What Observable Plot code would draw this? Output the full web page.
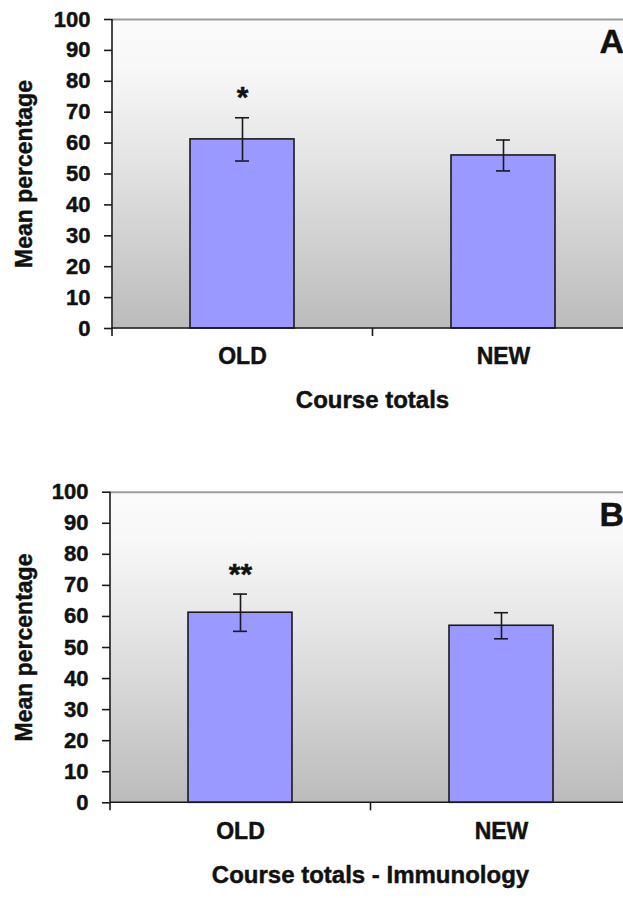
<!DOCTYPE html>
<html>
<head>
<meta charset="utf-8">
<script src="https://cdn.jsdelivr.net/npm/d3@7"></script>
<script src="https://cdn.jsdelivr.net/npm/@observablehq/plot@0.6"></script>
<style>
  html, body { margin: 0; padding: 0; background: #fff; overflow: hidden; }
  #chart { width: 623px; height: 898px; }
  #chart svg { display: block; }
  #chart svg text { font-family: "Liberation Sans", Arial, sans-serif; }
</style>
</head>
<body>
<div id="chart"></div>
<script>
// ---- data ----
const categories = ["OLD", "NEW"];
const meansA = [61.2, 56.0];
const errorsA = [7.0, 5.0];
const starsA = ["*", ""];
const meansB = [61.2, 57.0];
const errorsB = [6.0, 4.2];
const starsB = ["**", ""];
const yTicks = [0, 10, 20, 30, 40, 50, 60, 70, 80, 90, 100];
const yLabel = "Mean percentage";
const titleA = "Course totals";
const titleB = "Course totals - Immunology";

function axisLines() {
  return (index, scales, values, dim) => {
    const x = scales.x;
    const bw = typeof x.bandwidth === "function" ? x.bandwidth() : x.bandwidth;
    const x0 = dim.marginLeft, x1 = dim.width - dim.marginRight;
    const yTop = dim.marginTop, yBot = dim.height - dim.marginBottom;
    const mid = (x(categories[0]) + bw + x(categories[1])) / 2;
    const g = d3.create("svg:g").attr("stroke", "#1a1a1a").attr("stroke-width", 1.6).attr("fill", "none");
    g.append("line").attr("x1", x0).attr("x2", x0).attr("y1", yTop).attr("y2", yBot);
    g.append("line").attr("x1", x0).attr("x2", x1).attr("y1", yBot).attr("y2", yBot);
    for (const bx of [x0, mid, x1]) {
      g.append("line").attr("x1", bx).attr("x2", bx).attr("y1", yBot).attr("y2", yBot + 8);
    }
    return g.node();
  };
}

function panel({means, errors, stars, title, letter, id, mt, mb, ml, mr, letterDx, letterDy, labDy, titleDy, yLabDx}) {
  const rows = categories.map((c, i) => ({cat: c, mean: means[i], err: errors[i], star: stars[i]}));
  const bold = {fontWeight: "bold", fill: "#111", stroke: "#111", strokeWidth: 0.45};
  const svg = Plot.plot({
    width: 623,
    height: 449,
    marginLeft: ml,
    marginRight: mr,
    marginTop: mt,
    marginBottom: mb,
    style: {background: "transparent", overflow: "hidden", color: "#111"},
    x: {domain: categories, paddingInner: 0.603, paddingOuter: 0.294, axis: null},
    y: {domain: [0, 100], axis: null},
    marks: [
      Plot.frame({fill: `url(#${id})`, stroke: null}),
      Plot.ruleY([100], {stroke: "#9c9c9c", strokeWidth: 2}),
      Plot.barY(rows, {x: "cat", y: "mean", fill: "#9999ff", stroke: "#1a1a1a", strokeWidth: 1.6}),
      Plot.ruleX(rows, {x: "cat", y1: d => d.mean - d.err, y2: d => d.mean + d.err, stroke: "#1a1a1a", strokeWidth: 1.6}),
      Plot.tickY(rows, {x: "cat", y: d => d.mean + d.err, insetLeft: 45, insetRight: 45, stroke: "#1a1a1a", strokeWidth: 1.6}),
      Plot.tickY(rows, {x: "cat", y: d => d.mean - d.err, insetLeft: 45, insetRight: 45, stroke: "#1a1a1a", strokeWidth: 1.6}),
      Plot.text(rows, {x: "cat", y: d => d.mean + d.err, text: "star", dy: -20, fontSize: 30, ...bold}),
      Plot.axisY({ticks: yTicks, tickSize: 8, tickPadding: 14, fontSize: 22, fontWeight: "bold", label: null, stroke: "#1a1a1a", strokeWidth: 1.6}),
      axisLines(),
      Plot.text(rows, {x: "cat", text: "cat", frameAnchor: "bottom", dy: labDy, fontSize: 23, ...bold}),
      Plot.text([title], {frameAnchor: "bottom", dy: titleDy, fontSize: 24, ...bold}),
      Plot.text([yLabel], {frameAnchor: "left", textAnchor: "middle", dx: yLabDx, rotate: -90, fontSize: 23, ...bold}),
      Plot.text([letter], {frameAnchor: "top-right", textAnchor: "start", lineAnchor: "top", dx: letterDx, dy: letterDy, fontSize: 34, ...bold})
    ]
  });
  // gradient background like the spreadsheet plot area
  const ns = "http://www.w3.org/2000/svg";
  const defs = document.createElementNS(ns, "defs");
  const grad = document.createElementNS(ns, "linearGradient");
  grad.setAttribute("id", id);
  grad.setAttribute("x1", "0"); grad.setAttribute("y1", "0");
  grad.setAttribute("x2", "0"); grad.setAttribute("y2", "1");
  [[0, "#fbfbfb"], [0.15, "#f8f8f8"], [0.45, "#e4e4e4"], [0.75, "#cecece"], [1, "#bbbbbb"]].forEach(([o, c]) => {
    const s = document.createElementNS(ns, "stop");
    s.setAttribute("offset", o); s.setAttribute("stop-color", c);
    grad.appendChild(s);
  });
  defs.appendChild(grad);
  svg.insertBefore(defs, svg.firstChild);
  svg.querySelectorAll('g[aria-label="y-axis tick label"]').forEach(n => {
    n.setAttribute("font-weight", "bold");
    n.setAttribute("stroke", "#111");
    n.setAttribute("stroke-width", "0.45");
    n.setAttribute("fill", "#111");
  });
  return svg;
}

const chart = document.getElementById("chart");
chart.appendChild(panel({
  means: meansA, errors: errorsA, stars: starsA, title: titleA, letter: "A", id: "gradA",
  mt: 19, mb: 121, ml: 112, mr: -9, letterDx: -33, letterDy: 9, labDy: 35, titleDy: 79, yLabDx: -88
}));
chart.appendChild(panel({
  means: meansB, errors: errorsB, stars: starsB, title: titleB, letter: "B", id: "gradB",
  mt: 42.7, mb: 95.7, ml: 110, mr: -7, letterDx: -31, letterDy: 10, labDy: 36, titleDy: 80, yLabDx: -86
}));
</script>
</body>
</html>
